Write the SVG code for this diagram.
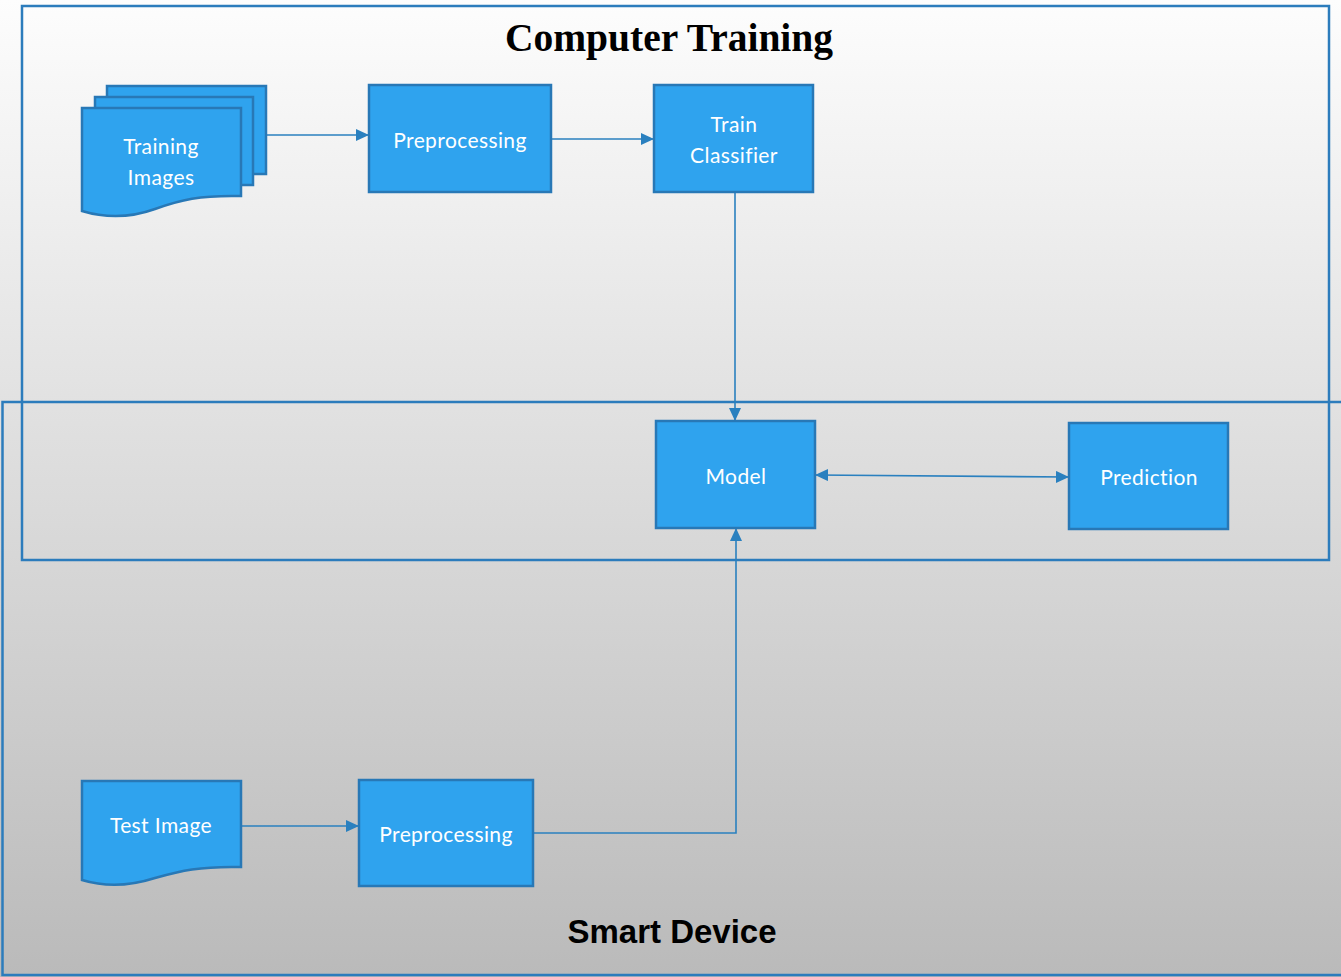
<svg xmlns="http://www.w3.org/2000/svg" width="1341" height="977" viewBox="0 0 1341 977">
  <defs>
    <linearGradient id="bg" x1="0" y1="0" x2="0" y2="1">
      <stop offset="0" stop-color="#fdfdfd"/>
      <stop offset="1" stop-color="#bababa"/>
    </linearGradient>
    <marker id="arrow" viewBox="0 0 13 12" refX="13" refY="6" markerWidth="13" markerHeight="12" markerUnits="userSpaceOnUse" orient="auto-start-reverse">
      <path d="M0,0 L13,6 L0,12 Z" fill="#2a80bf"/>
    </marker>
    <style>
      .frame { fill: none; stroke: #2c7cbc; stroke-width: 2.5; }
      .node { fill: #2fa3ee; stroke: #2878b6; stroke-width: 2.5; }
      .label { fill: #ffffff; font-family: Lato, "Noto Sans", sans-serif; font-size: 21px; letter-spacing: 0.4px; text-anchor: middle; dominant-baseline: central; }
      .edge { fill: none; stroke: #2a80bf; stroke-width: 1.6; }
    </style>
  </defs>

  <!-- background -->
  <rect x="0" y="0" width="1341" height="977" fill="url(#bg)"/>

  <!-- group frames -->
  <g id="computer-training">
    <rect class="frame" x="22" y="6" width="1307" height="554"/>
    <text x="669" y="51" font-family="'Liberation Serif', serif" font-weight="bold" font-size="39.5" text-anchor="middle" fill="#000">Computer Training</text>
  </g>
  <g id="smart-device">
    <rect class="frame" x="2.5" y="402" width="1345" height="573"/>
    <text x="672" y="943" font-family="'Liberation Sans', sans-serif" font-weight="bold" font-size="33" text-anchor="middle" fill="#000">Smart Device</text>
  </g>

  <!-- connectors -->
  <g id="connectors">
    <path class="edge" d="M266,135 H369" marker-end="url(#arrow)"/>
    <path class="edge" d="M551,139 H654" marker-end="url(#arrow)"/>
    <path class="edge" d="M735,185 V421" marker-end="url(#arrow)"/>
    <path class="edge" d="M815,475 L1069,477" marker-start="url(#arrow)" marker-end="url(#arrow)"/>
    <path class="edge" d="M241,826 H359" marker-end="url(#arrow)"/>
    <path class="edge" d="M533,833 H736 V528" marker-end="url(#arrow)"/>
  </g>

  <!-- nodes -->
  <g id="training-images">
    <rect class="node" x="107" y="86" width="159" height="88"/>
    <rect class="node" x="95" y="97" width="158" height="88"/>
    <path class="node" d="M82,108 H241 V196 C200,195 180,200 155,209 C130,218 105,218 82,211 Z"/>
    <text class="label" x="161" y="145">Training</text>
    <text class="label" x="161" y="176">Images</text>
  </g>
  <g id="preprocessing-train">
    <rect class="node" x="369" y="85" width="182" height="107"/>
    <text class="label" x="460" y="139">Preprocessing</text>
  </g>
  <g id="train-classifier">
    <rect class="node" x="654" y="85" width="159" height="107"/>
    <text class="label" x="734" y="123">Train</text>
    <text class="label" x="734" y="154">Classifier</text>
  </g>
  <g id="model">
    <rect class="node" x="656" y="421" width="159" height="107"/>
    <text class="label" x="736" y="475">Model</text>
  </g>
  <g id="prediction">
    <rect class="node" x="1069" y="423" width="159" height="106"/>
    <text class="label" x="1149" y="476">Prediction</text>
  </g>
  <g id="test-image">
    <path class="node" d="M82,781 H241 V867 C200,866 180,871 155,878 C130,886 105,887 82,880 Z"/>
    <text class="label" x="161" y="824">Test Image</text>
  </g>
  <g id="preprocessing-device">
    <rect class="node" x="359" y="780" width="174" height="106"/>
    <text class="label" x="446" y="833">Preprocessing</text>
  </g>
</svg>
